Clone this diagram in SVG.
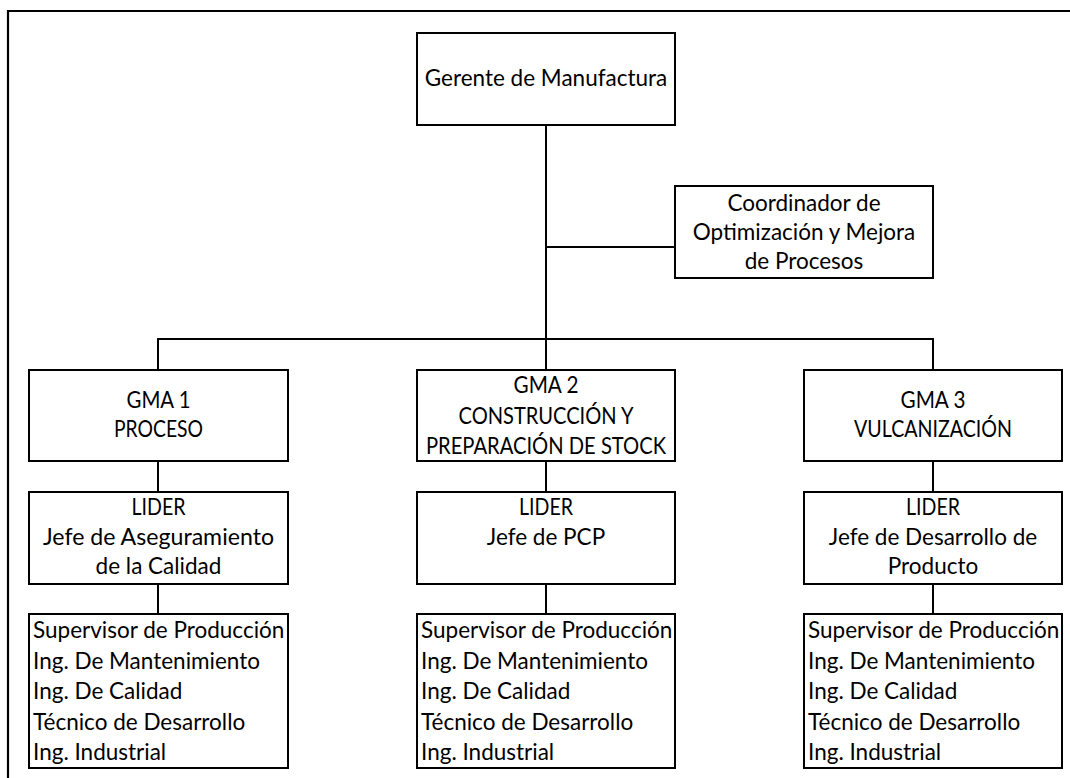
<svg xmlns="http://www.w3.org/2000/svg" width="1070" height="778" viewBox="0 0 1070 778">
  <style>
    .box { fill: #ffffff; stroke: #000000; stroke-width: 2; }
    .wire { fill: none; stroke: #000000; stroke-width: 2; }
    .frame { fill: none; stroke: #000000; stroke-width: 2.2; }
    text { font-family: Lato, "Liberation Sans", sans-serif; font-size: 22.5px; fill: #000000; }
    .c { text-anchor: middle; }
    .l { text-anchor: start; }
  </style>
  <rect width="1070" height="778" fill="#ffffff"/>
  <!-- page frame -->
  <path class="frame" d="M8,778 V11 H1070"/>

  <!-- connectors -->
  <g id="connectors">
    <path class="wire" d="M546,125 V339"/>
    <path class="wire" d="M546,247 H675"/>
    <path class="wire" d="M158,370 V339 H933 V370"/>
    <path class="wire" d="M546,339 V370"/>
    <path class="wire" d="M158,461 V492 M158,584 V614"/>
    <path class="wire" d="M546,461 V492 M546,584 V614"/>
    <path class="wire" d="M933,461 V492 M933,584 V614"/>
  </g>

  <g id="gerente">
    <rect class="box" x="417" y="33" width="258" height="92"/>
    <text class="c" x="546" y="86">Gerente de Manufactura</text>
  </g>

  <g id="coordinador">
    <rect class="box" x="675" y="186" width="258" height="92"/>
    <text class="c" x="804" y="211">Coordinador de</text>
    <text class="c" x="804" y="240">Optimización y Mejora</text>
    <text class="c" x="804" y="269">de Procesos</text>
  </g>

  <g id="gma1">
    <rect class="box" x="29" y="370" width="259" height="91"/>
    <text class="c" x="158.5" y="408" textLength="64" lengthAdjust="spacingAndGlyphs">GMA 1</text>
    <text class="c" x="158.5" y="437" textLength="89" lengthAdjust="spacingAndGlyphs">PROCESO</text>
  </g>
  <g id="gma2">
    <rect class="box" x="417" y="370" width="258" height="91"/>
    <text class="c" x="546" y="393" textLength="65" lengthAdjust="spacingAndGlyphs">GMA 2</text>
    <text class="c" x="546" y="424" textLength="175" lengthAdjust="spacingAndGlyphs">CONSTRUCCIÓN Y</text>
    <text class="c" x="546" y="454" textLength="240" lengthAdjust="spacingAndGlyphs">PREPARACIÓN DE STOCK</text>
  </g>
  <g id="gma3">
    <rect class="box" x="804" y="370" width="258" height="91"/>
    <text class="c" x="933" y="408" textLength="65" lengthAdjust="spacingAndGlyphs">GMA 3</text>
    <text class="c" x="933" y="437" textLength="158" lengthAdjust="spacingAndGlyphs">VULCANIZACIÓN</text>
  </g>

  <g id="lider1">
    <rect class="box" x="29" y="492" width="259" height="92"/>
    <text class="c" x="158.5" y="515" textLength="54" lengthAdjust="spacingAndGlyphs">LIDER</text>
    <text class="c" x="158.5" y="545" textLength="231" lengthAdjust="spacingAndGlyphs">Jefe de Aseguramiento</text>
    <text class="c" x="158.5" y="574">de la Calidad</text>
  </g>
  <g id="lider2">
    <rect class="box" x="417" y="492" width="258" height="92"/>
    <text class="c" x="546" y="515" textLength="54" lengthAdjust="spacingAndGlyphs">LIDER</text>
    <text class="c" x="546" y="545">Jefe de PCP</text>
  </g>
  <g id="lider3">
    <rect class="box" x="804" y="492" width="258" height="92"/>
    <text class="c" x="933" y="515" textLength="54" lengthAdjust="spacingAndGlyphs">LIDER</text>
    <text class="c" x="933" y="545">Jefe de Desarrollo de</text>
    <text class="c" x="933" y="574">Producto</text>
  </g>

  <g id="equipo1">
    <rect class="box" x="29" y="614" width="259" height="154"/>
    <text class="l" x="33" y="638">Supervisor de Producción</text>
    <text class="l" x="33" y="669">Ing. De Mantenimiento</text>
    <text class="l" x="33" y="699">Ing. De Calidad</text>
    <text class="l" x="33" y="730">Técnico de Desarrollo</text>
    <text class="l" x="33" y="760">Ing. Industrial</text>
  </g>
  <g id="equipo2">
    <rect class="box" x="417" y="614" width="258" height="154"/>
    <text class="l" x="421" y="638">Supervisor de Producción</text>
    <text class="l" x="421" y="669">Ing. De Mantenimiento</text>
    <text class="l" x="421" y="699">Ing. De Calidad</text>
    <text class="l" x="421" y="730">Técnico de Desarrollo</text>
    <text class="l" x="421" y="760">Ing. Industrial</text>
  </g>
  <g id="equipo3">
    <rect class="box" x="804" y="614" width="258" height="154"/>
    <text class="l" x="808" y="638">Supervisor de Producción</text>
    <text class="l" x="808" y="669">Ing. De Mantenimiento</text>
    <text class="l" x="808" y="699">Ing. De Calidad</text>
    <text class="l" x="808" y="730">Técnico de Desarrollo</text>
    <text class="l" x="808" y="760">Ing. Industrial</text>
  </g>
</svg>
